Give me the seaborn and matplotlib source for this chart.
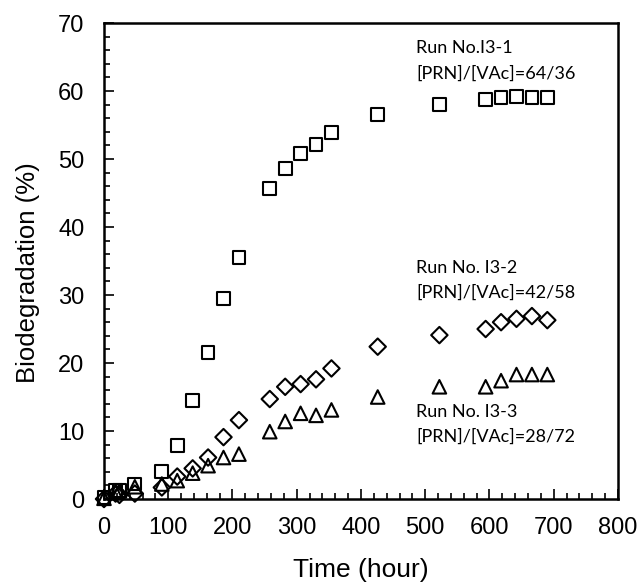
import numpy as np
import pandas as pd
import matplotlib
matplotlib.use("Agg")
import matplotlib.pyplot as plt
import seaborn as sns
from matplotlib.ticker import MultipleLocator

sns.set_theme(style="ticks")
plt.rcParams['font.family'] = ['Liberation Sans', 'DejaVu Sans']
plt.rcParams.update({"text.color": "black", "axes.labelcolor": "black",
                     "xtick.color": "black", "ytick.color": "black",
                     "xtick.labelcolor": "black", "ytick.labelcolor": "black"})

# Time (hour)
time_h = [0, 18, 24, 48, 90, 114, 138, 162, 186, 210, 258, 282, 306, 330, 354,
          426, 522, 594, 618, 642, 666, 690]

# Run No. I3-1  [PRN]/[VAc]=64/36
run1 = [0.2, 1.3, 1.2, 2.2, 4.0, 7.9, 14.5, 21.5, 29.5, 35.5, 45.7, 48.6, 50.8,
        52.1, 53.9, 56.5, 58.0, 58.7, 59.0, 59.2, 59.1, 59.0]
# Run No. I3-2  [PRN]/[VAc]=42/58
run2 = [0.0, 0.8, 0.6, 0.8, 1.7, 3.3, 4.5, 6.1, 9.1, 11.6, 14.7, 16.5, 16.9,
        17.6, 19.2, 22.4, 24.1, 25.0, 26.0, 26.5, 26.9, 26.3]
# Run No. I3-3  [PRN]/[VAc]=28/72
run3 = [0.1, 1.0, 1.2, 1.8, 2.2, 2.7, 3.8, 4.9, 6.1, 6.6, 9.9, 11.4, 12.6,
        12.3, 13.1, 15.0, 16.5, 16.5, 17.4, 18.3, 18.3, 18.3]

labels = [("Run No.I3-1", "[PRN]/[VAc]=64/36"),
          ("Run No. I3-2", "[PRN]/[VAc]=42/58"),
          ("Run No. I3-3", "[PRN]/[VAc]=28/72")]

df = pd.DataFrame({"Time (hour)": time_h * 3,
                   "Biodegradation (%)": run1 + run2 + run3,
                   "run": ["I3-1"] * len(time_h) + ["I3-2"] * len(time_h) + ["I3-3"] * len(time_h)})

fig = plt.figure(figsize=(6.41, 5.84), dpi=100)
ax = fig.add_axes([104/641, 1 - 499/584, (618-104)/641, (499-23)/584])

markers = {"I3-1": ("s", 85), "I3-2": ("D", 70), "I3-3": ("^", 95)}
for run, (m, s) in markers.items():
    sub = df[df["run"] == run]
    sns.scatterplot(data=sub, x="Time (hour)", y="Biodegradation (%)", marker=m, s=s,
                    facecolor="none", edgecolor="black", linewidth=1.5, ax=ax,
                    legend=False, zorder=3, clip_on=False)

ax.set_xlim(0, 800)
ax.set_ylim(0, 70)
ax.xaxis.set_major_locator(MultipleLocator(100))
ax.xaxis.set_minor_locator(MultipleLocator(20))
ax.yaxis.set_major_locator(MultipleLocator(10))
ax.yaxis.set_minor_locator(MultipleLocator(2))
ax.tick_params(which="both", direction="in", color="black", width=1.2)
ax.tick_params(which="major", length=7, labelsize=17, labelcolor="black")
ax.tick_params(axis="x", which="major", pad=13)
ax.tick_params(axis="y", which="major", pad=14)
ax.tick_params(which="minor", length=4)
for sp in ax.spines.values():
    sp.set_visible(True)
    sp.set_linewidth(1.8)
    sp.set_color("black")
ax.set_xlabel("Time (hour)", fontsize=19, color="black")
ax.set_ylabel("Biodegradation (%)", fontsize=18.5, color="black")
ax.xaxis.label.set_va("center")
ax.yaxis.label.set_va("center")
ax.xaxis.set_label_coords(0.5, -0.149)
ax.yaxis.set_label_coords(-0.148, 0.475)

ann_y = [(66.3, 62.6), (34.0, 30.3), (12.8, 9.1)]
for (l1, l2), (y1, y2) in zip(labels, ann_y):
    ax.text(486, y1, l1, fontsize=13, family=["Lato", "DejaVu Sans"], va="center", ha="left", color="black")
    ax.text(486, y2, l2, fontsize=13, family=["Lato", "DejaVu Sans"], va="center", ha="left", color="black")

fig.savefig("out.png", dpi=100)
